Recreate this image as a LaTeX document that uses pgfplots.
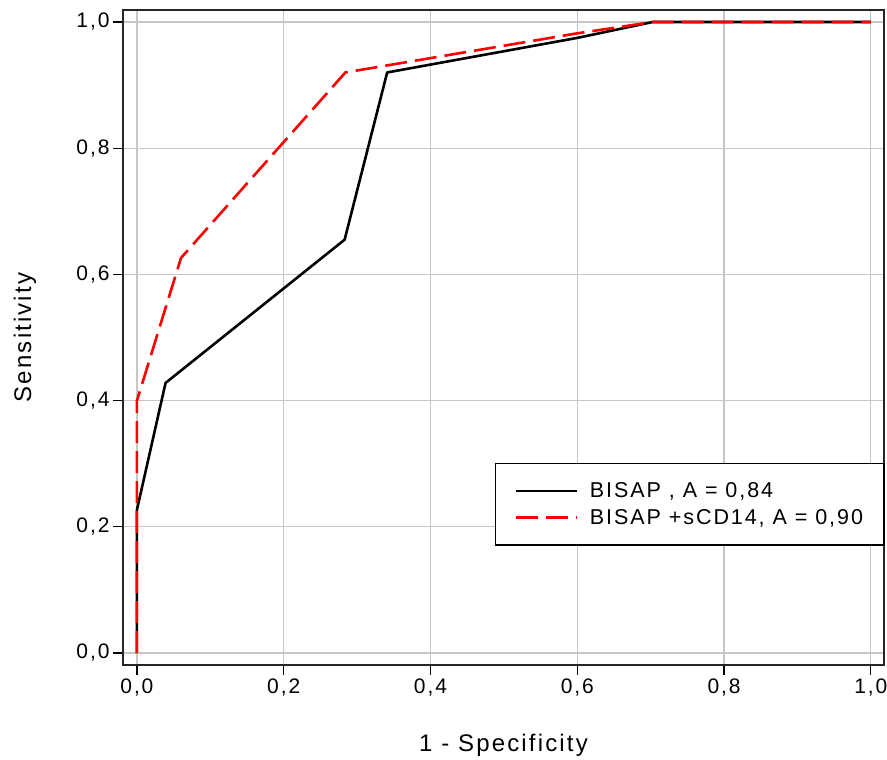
\documentclass[border=0pt]{standalone}
\usepackage{fontspec}
\setmainfont[LetterSpace=9]{Liberation Sans}
\usepackage{pgfplots}
\pgfplotsset{compat=1.18}
\begin{document}
\begin{tikzpicture}
\begin{axis}[
  name=ax,
  scale only axis, width=761pt, height=655pt,
  xmin=-0.019, xmax=1.018, ymin=-0.019, ymax=1.019,
  xtick={0,0.2,0.4,0.6,0.8,1}, ytick={0,0.2,0.4,0.6,0.8,1},
  xtick pos=left, ytick pos=left,
  tick align=outside, major tick length=10pt,
  tick style={black, line width=1.3pt},
  grid=major, grid style={black!22, line width=1.2pt},
  axis line style={black!85, line width=1.6pt},
  /pgf/number format/use comma,
  /pgf/number format/fixed,
  /pgf/number format/fixed zerofill,
  /pgf/number format/precision=1,
  /pgf/number format/assume math mode=true,
  ticklabel style={font=\fontsize{21}{26}\selectfont, text=black},
  xlabel={1 - Specificity}, ylabel={Sensitivity},
  label style={font=\fontsize{24}{28}\selectfont},
  xlabel style={at={(axis description cs:0.5,-0.122)}, anchor=center},
  ylabel style={at={(axis description cs:-0.129,0.5)}, anchor=center},
  legend cell align=left,
  legend image code/.code={\draw[#1] (0pt,0pt) -- (61pt,0pt);},
  legend style={at={(rel axis cs:1.001,0.3084)}, anchor=north east,
    draw=black, line width=1.5pt, font=\fontsize{21.5}{27}\selectfont,
    inner xsep=19pt, inner ysep=17pt, row sep=6pt,
    /tikz/every odd column/.append style={column sep=10pt}},
]
\addplot[black, line width=2.6pt, line join=round] coordinates {
  (0,0) (0,0.227) (0.039,0.428) (0.283,0.655) (0.341,0.920)
  (0.601,0.975) (0.703,1) (1,1)};
\addlegendentry{BISAP , A = 0,84}
\addplot[red, line width=2.6pt, dash pattern=on 22pt off 8pt] coordinates {
  (0,0) (0,0.400) (0.060,0.626) (0.284,0.920) (0.600,0.982) (0.703,1) (1,1)};
\addlegendentry{BISAP +sCD14, A = 0,90}
\end{axis}
\pgfresetboundingbox
\path ([shift={(-123pt,-95pt)}]ax.south west) rectangle ([shift={(3pt,10pt)}]ax.north east);
\end{tikzpicture}
\end{document}
